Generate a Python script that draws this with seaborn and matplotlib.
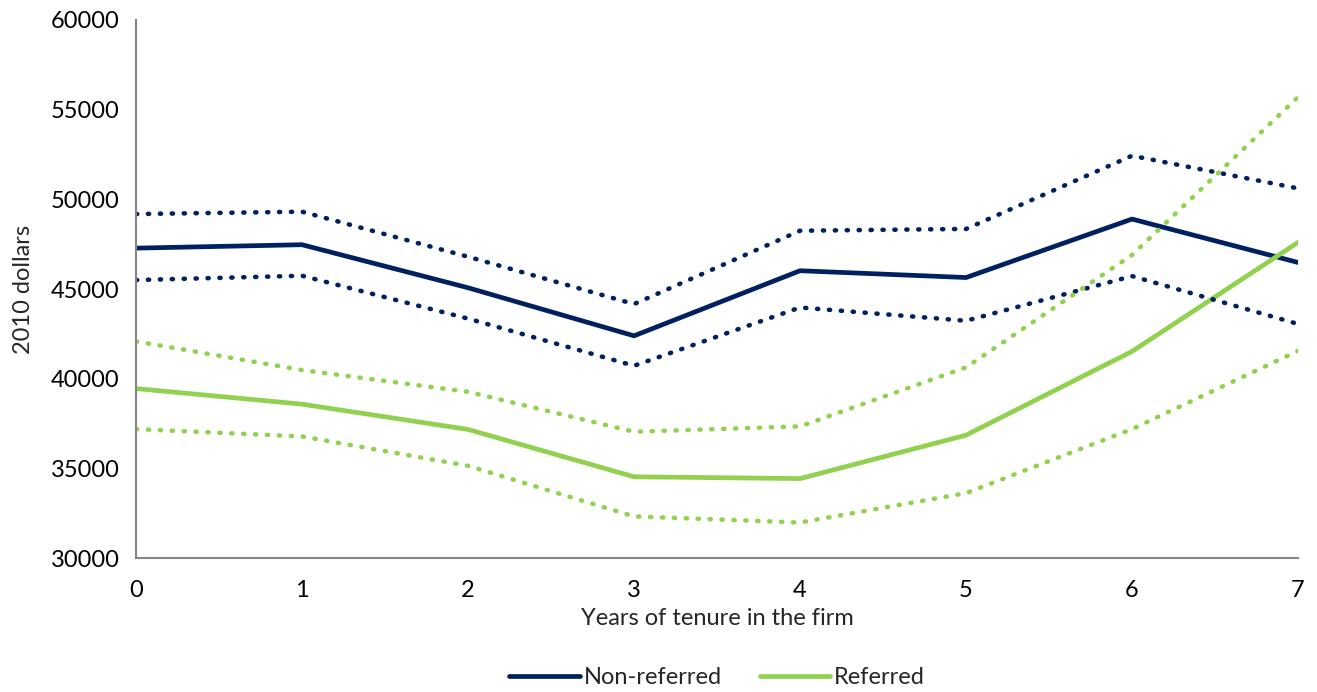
import matplotlib
matplotlib.use("Agg")
import matplotlib.pyplot as plt
import seaborn as sns

# values (2010 dollars)
years = [0, 1, 2, 3, 4, 5, 6, 7]
nonref_mean = [47280, 47470, 45070, 42390, 46020, 45640, 48900, 46480]
nonref_upper = [49180, 49310, 46800, 44160, 48250, 48350, 52430, 50610]
nonref_lower = [45500, 45740, 43350, 40720, 43970, 43230, 45720, 43050]
ref_mean = [39450, 38580, 37170, 34530, 34430, 36850, 41520, 47600]
ref_upper = [42080, 40480, 39270, 37040, 37340, 40630, 46900, 55700]
ref_lower = [37190, 36780, 35140, 32320, 31980, 33620, 37190, 41550]

navy = "#002060"
green = "#92D050"
axis_grey = "#868686"

sns.set_style("white")
plt.rcParams["font.family"] = ["Lato", "DejaVu Sans"]
fs = 17

fig = plt.figure(figsize=(13.17, 6.92), dpi=100)
ax = fig.add_axes([0.1033, 0.1936, 0.8823, 0.7775])

sns.lineplot(x=years, y=nonref_mean, color=navy, ax=ax, label="Non-referred")
sns.lineplot(x=years, y=ref_mean, color=green, ax=ax, label="Referred")
for ln in ax.lines:
    ln.set_linewidth(3.4)
    ln.set_solid_capstyle("round")

# confidence bounds drawn as round dots
for vals, col in [(nonref_upper, navy), (nonref_lower, navy),
                  (ref_upper, green), (ref_lower, green)]:
    n = len(ax.lines)
    sns.lineplot(x=years, y=vals, color=col, ax=ax, legend=False)
    ln = ax.lines[n]
    ln.set_linewidth(3.3)
    ln.set_linestyle((0, (0.25, 2.35)))
    ln.set_dash_capstyle("round")

ax.set_xlim(0, 7)
ax.set_ylim(30000, 60000)
ax.set_xticks(years)
ax.set_yticks(range(30000, 60001, 5000))
ax.set_xticklabels([str(y) for y in years])
ax.set_yticklabels([str(v) for v in range(30000, 60001, 5000)])

for side in ["top", "right"]:
    ax.spines[side].set_visible(False)
for side in ["left", "bottom"]:
    ax.spines[side].set_color(axis_grey)
    ax.spines[side].set_linewidth(1.5)
ax.tick_params(axis="both", direction="out", length=6, width=1.5,
               color=axis_grey, labelsize=fs, labelcolor="black", pad=6)
ax.tick_params(axis="x", pad=10)

ax.set_xlabel("Years of tenure in the firm", fontsize=fs, labelpad=5)
ax.set_ylabel("2010 dollars", fontsize=fs, labelpad=12)

leg = ax.legend(loc="upper center", bbox_to_anchor=(0.5, -0.163), ncol=2,
                frameon=False, fontsize=fs, handlelength=3.0,
                handletextpad=0.15, columnspacing=1.6)

fig.savefig("out.png", dpi=100)
